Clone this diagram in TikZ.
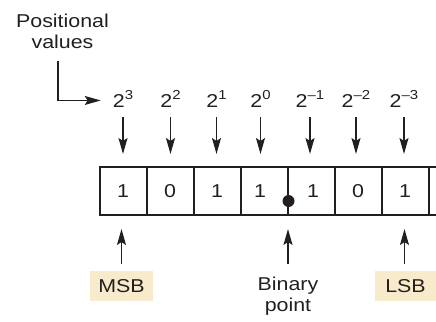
\documentclass[tikz,border=0pt]{standalone}
\usepackage{fontspec}
\setmainfont{Liberation Sans}[FakeStretch=1.15]
\usetikzlibrary{arrows.meta}
\definecolor{ink}{HTML}{231F20}
\definecolor{tag}{HTML}{F8EBCB}
\newcommand\pw[1]{2\raisebox{8pt}{\fontsize{13}{13}\selectfont #1}}
\tikzset{
  every node/.style={text=ink, inner sep=0pt, font=\fontsize{18.6}{21}\selectfont},
  arr/.style={draw=ink, line width=1.2pt, -{Stealth[length=16pt,width=9pt,inset=3pt]}},
  cell/.style={draw=ink, line width=2pt, minimum width=47pt, minimum height=48pt},
  power/.style={anchor=base},
  tagbox/.style={fill=tag, minimum width=#1, minimum height=30pt},
  dot/.style={circle, fill=ink, minimum size=12pt},
}
\begin{document}
\begin{tikzpicture}[x=1pt, y=-1pt]
\useasboundingbox (0,0) rectangle (436,321);

% register cells
\node[cell] (c1) at (123,191) {\raisebox{-2pt}{1}};
\node[cell] (c2) at (170,191) {\raisebox{-2pt}{0}};
\node[cell] (c3) at (217,191) {\raisebox{-2pt}{1}};
\node[cell] (c4) at (264,191) {\raisebox{-2pt}{1\hspace{8pt}}};
\node[cell] (c5) at (311,191) {\raisebox{-2pt}{\hspace{4pt}1}};
\node[cell] (c6) at (358,191) {\raisebox{-2pt}{0}};
\node[cell] (c7) at (405,191) {\raisebox{-2pt}{1}};
\node[cell] (c8) at (452,191) {};

% binary point
\node[dot] (bp) at ([yshift=-10pt]c4.east) {};

% positional values
\node[power] (p1) at (123,107) {\pw{3}};
\node[power] (p2) at (170.5,107) {\pw{2}};
\node[power] (p3) at (216.5,107) {\pw{1}};
\node[power] (p4) at (260.5,107) {\pw{0}};
\node[power] (p5) at (310,107) {\pw{–1}};
\node[power] (p6) at (356,107) {\pw{–2}};
\node[power] (p7) at (404,107) {\pw{–3}};

\foreach \i in {1,...,7}{
  \draw[arr, shorten <=10pt, shorten >=12pt] (p\i.base) -- (p\i.base |- c\i.north);
}

% caption at top left
\node[anchor=north, align=center] (pv) at (62.5,13.5) {Positional\\values};
\draw[arr] ([xshift=-4.5pt,yshift=-12.7pt]pv.south) |- ([xshift=-12pt,yshift=-2pt]p1.west);

% labels below
\node[tagbox=63pt] (msb) at (121.5,286) {MSB};
\node[tagbox=61pt] (lsb) at (405.5,286) {LSB};
\node[anchor=north, align=center] (bin) at (288,277.3) {Binary\\point};

\draw[arr, shorten <=7pt, shorten >=13pt] (msb.north) -- (msb.north |- c1.south);
\draw[arr, shorten <=13pt, shorten >=13pt] (bin.north) -- (bin.north |- c4.south);
\draw[arr, shorten <=7pt, shorten >=13pt] ([xshift=-1pt]lsb.north) -- ([xshift=-1pt]lsb.north |- c7.south);
\end{tikzpicture}
\end{document}
